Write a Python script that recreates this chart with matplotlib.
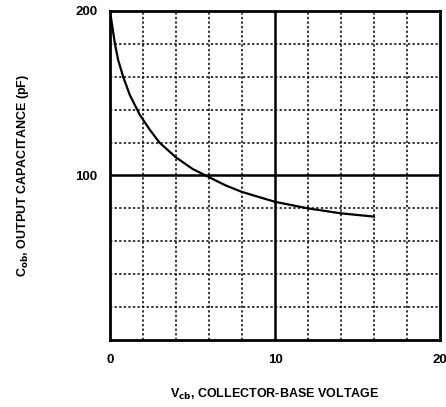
import matplotlib
matplotlib.use("Agg")
import matplotlib.pyplot as plt

# curve
vcb = [0, 0.15, 0.3, 0.5, 0.8, 1.2, 1.8, 2.4, 3.0, 4.0, 5.0, 5.8, 7, 8, 9, 10, 12, 14, 16]
cob = [200, 190, 180, 170, 160, 149, 137, 128, 120, 111, 104, 100, 94, 90, 87, 84, 80, 77, 75]

x_ticks = [0, 10, 20]
y_ticks = [100, 200]
x_grid = [2, 4, 6, 8, 12, 14, 16, 18]
y_grid = [20, 40, 60, 80, 120, 140, 160, 180]

fam = ['Liberation Sans', 'DejaVu Sans']
font = dict(family=fam, fontweight='bold', fontsize=9)

fig = plt.figure(figsize=(4.46, 4.07), dpi=100)
ax = fig.add_axes([0.2466, 0.1646, 0.74, 0.8084])

for gx in x_grid:
    ax.axvline(gx, color='black', linestyle=(0, (1.5, 1.5)), linewidth=1.1)
for gy in y_grid:
    ax.axhline(gy, color='black', linestyle=(0, (1.5, 1.5)), linewidth=1.1)
ax.axvline(10, color='black', linewidth=1.8)
ax.axhline(100, color='black', linewidth=1.8)

ax.plot(vcb, cob, color='black', linewidth=1.6)

ax.set_xlim(0, 20)
ax.set_ylim(0, 200)
ax.set_xticks(x_ticks)
ax.set_yticks(y_ticks)
ax.tick_params(length=0)
ax.tick_params(axis='x', pad=10)
ax.tick_params(axis='y', pad=9)
for lbl in ax.get_xticklabels() + ax.get_yticklabels():
    lbl.set_fontfamily(fam)
    lbl.set_fontweight('bold')
    lbl.set_fontsize(9.5)
for s in ax.spines.values():
    s.set_linewidth(2)

ax.set_xlabel('V$_{\\mathbf{cb}}$, COLLECTOR-BASE VOLTAGE', labelpad=15, **font)
ax.set_ylabel('C$_{\\mathbf{ob}}$, OUTPUT CAPACITANCE (pF)', labelpad=32, **font)

fig.savefig('out.png', dpi=100)
